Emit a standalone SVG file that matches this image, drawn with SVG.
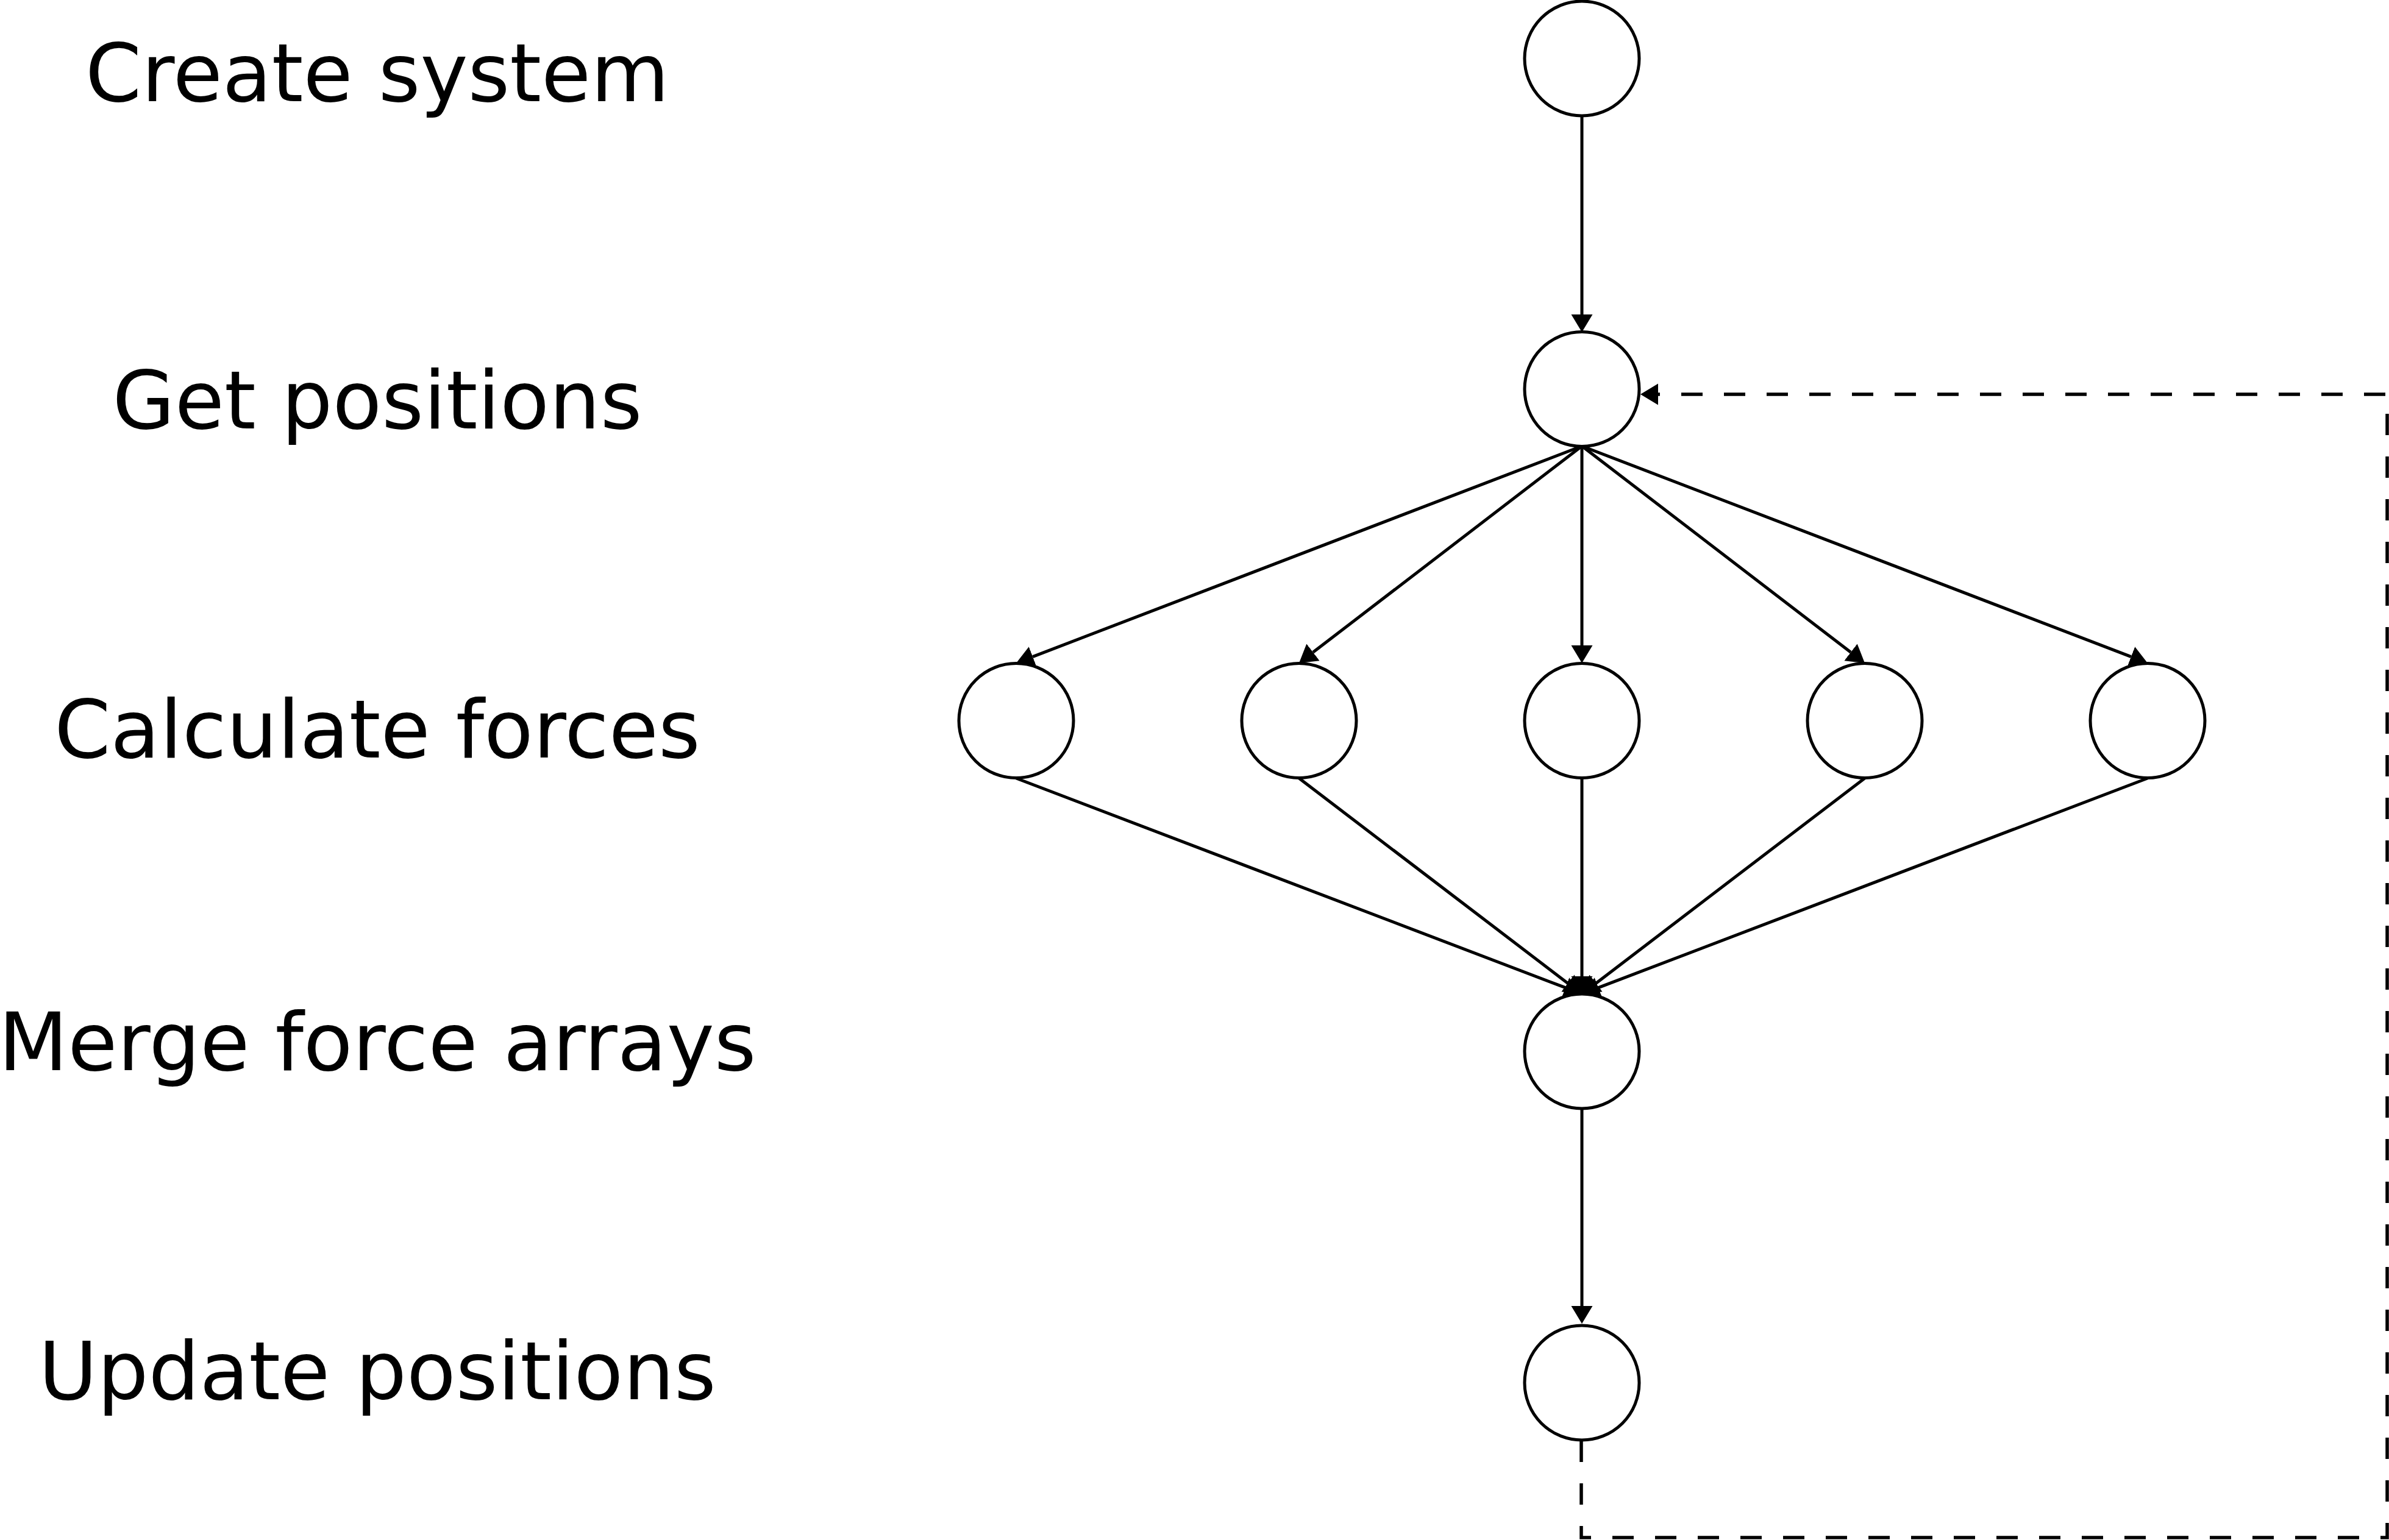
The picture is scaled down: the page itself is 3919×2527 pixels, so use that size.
<svg xmlns="http://www.w3.org/2000/svg" width="3919" height="2527" viewBox="0 0 3919 2527">
<style>
.node{fill:#fff;stroke:#000;stroke-width:5}
.lbl{font-family:"DejaVu Sans","Liberation Sans",sans-serif;font-size:132px;fill:#000;text-anchor:middle}
.edge{fill:none;stroke:#000;stroke-width:5}
.dash{stroke-dasharray:35 35;stroke-width:5.5}
</style>
<defs>
<marker id="ah" markerUnits="userSpaceOnUse" markerWidth="30" markerHeight="36" refX="0" refY="17.5" orient="auto" viewBox="0 0 30 35">
<path d="M0,0 L29,17.5 L0,35 z" fill="#000"/>
</marker>
</defs>
<rect width="3919" height="2527" fill="#fff"/>
<g id="labels">
<text class="lbl" x="619" y="166">Create system</text>
<text class="lbl" x="619" y="703">Get positions</text>
<text class="lbl" x="619" y="1243">Calculate forces</text>
<text class="lbl" x="619" y="1756">Merge force arrays</text>
<text class="lbl" x="619" y="2296">Update positions</text>
</g>
<g id="connectors">
<line class="edge" x1="2595" y1="190" x2="2595" y2="516" marker-end="url(#ah)"/>
<line class="edge" x1="2595" y1="732" x2="1694.1" y2="1077.6" marker-end="url(#ah)"/>
<line class="edge" x1="2595" y1="732" x2="2154" y2="1070.3" marker-end="url(#ah)"/>
<line class="edge" x1="2595" y1="732" x2="2595" y2="1059" marker-end="url(#ah)"/>
<line class="edge" x1="2595" y1="732" x2="3036" y2="1070.3" marker-end="url(#ah)"/>
<line class="edge" x1="2595" y1="732" x2="3495.9" y2="1077.6" marker-end="url(#ah)"/>
<line class="edge" x1="1667" y1="1277" x2="2567.9" y2="1620.7" marker-end="url(#ah)"/>
<line class="edge" x1="2131" y1="1277" x2="2571.9" y2="1613.4" marker-end="url(#ah)"/>
<line class="edge" x1="2595" y1="1277" x2="2595" y2="1602" marker-end="url(#ah)"/>
<line class="edge" x1="3059" y1="1277" x2="2618.1" y2="1613.4" marker-end="url(#ah)"/>
<line class="edge" x1="3523" y1="1277" x2="2622.1" y2="1620.7" marker-end="url(#ah)"/>
<line class="edge" x1="2595" y1="1819" x2="2595" y2="2143" marker-end="url(#ah)"/>
<path class="edge dash" d="M2594,2364 V2523 H3916 V647 H2720" marker-end="url(#ah)"/>
</g>
<g id="n-create"><circle class="node" cx="2595" cy="96" r="94"/></g>
<g id="n-get"><circle class="node" cx="2595" cy="638.5" r="94"/></g>
<g id="n-calc1"><circle class="node" cx="1667" cy="1182.5" r="94"/></g>
<g id="n-calc2"><circle class="node" cx="2131" cy="1182.5" r="94"/></g>
<g id="n-calc3"><circle class="node" cx="2595" cy="1182.5" r="94"/></g>
<g id="n-calc4"><circle class="node" cx="3059" cy="1182.5" r="94"/></g>
<g id="n-calc5"><circle class="node" cx="3523" cy="1182.5" r="94"/></g>
<g id="n-merge"><circle class="node" cx="2595" cy="1725" r="94"/></g>
<g id="n-update"><circle class="node" cx="2595" cy="2269" r="94"/></g>
</svg>
